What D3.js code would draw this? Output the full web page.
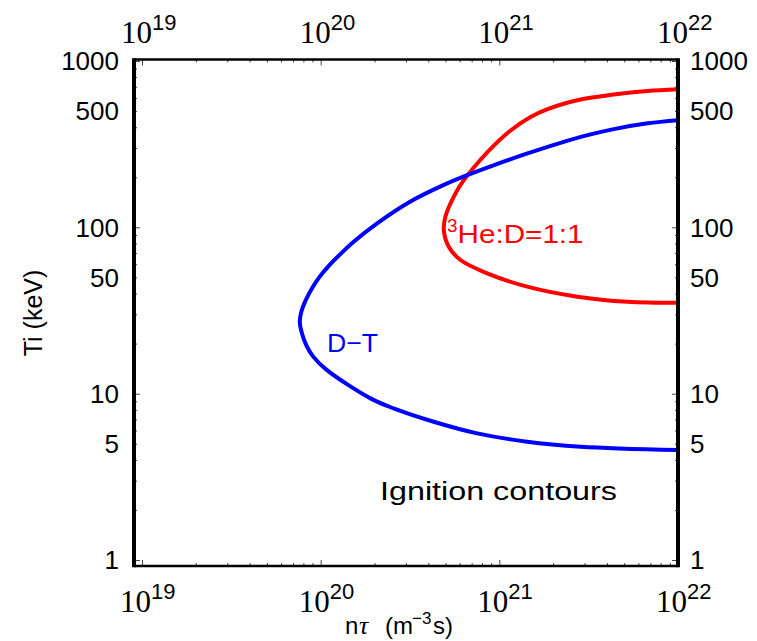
<!DOCTYPE html>
<html><head><meta charset="utf-8">
<script src="https://cdn.jsdelivr.net/npm/d3@7"></script>
<style>body{margin:0;background:#fff}svg{display:block}</style>
</head><body><svg id="c" width="757" height="641"></svg>
<script>
// ---- data ----
const xTickExponents = ["19", "20", "21", "22"];
const yTickValues = [1, 5, 10, 50, 100, 500, 1000];
const yTickLabels = ["1", "5", "10", "50", "100", "500", "1000"];

// D-T ignition contour: n*tau (m^-3 s), Ti (keV)
const dtNtau = [1e22, 6.77e21, 4.37e21, 3.24e21, 2.20e21, 1.438e21, 9.27e20, 6.61e20, 4.89e20, 3.18e20, 2.07e20, 1.53e20, 1.271e20, 1.094e20, 9.83e19, 9.03e19, 8.25e19, 7.78e19, 7.64e19, 7.85e19, 8.30e19, 9.08e19, 1.08e20, 1.90e20, 2.56e20, 4.29e20, 7.52e20, 1.43e21, 2.85e21, 1e22];
const dtTi   = [440.6, 422, 389.5, 361.9, 322.2, 278.2, 236, 206, 180, 143, 105.7, 82.0, 68.1, 57.7, 50.2, 43.75, 36.5, 30.9, 26.9, 23.1, 19.6, 16.7, 13.9, 9.37, 8.16, 6.78, 5.77, 5.14, 4.80, 4.58];

// 3He:D = 1:1 ignition contour
const heNtau = [1e22, 6.74e21, 4.37e21, 2.85e21, 1.862e21, 1.496e21, 1.156e21, 9.31e20, 7.52e20, 6.32e20, 5.56e20, 4.99e20, 4.89e20, 5.21e20, 6.06e20, 8.55e20, 1.43e21, 2.73e21, 5.21e21, 1e22];
const heTi   = [676, 660, 629, 587, 514, 460.5, 382, 310, 242, 192, 153, 116, 96, 76.4, 63.6, 52.9, 44.0, 38.3, 35.7, 35.2];

// ---- layout ----
const plot = {left: 134, right: 678, top: 59.5, bottom: 566};
const svg = d3.select("#c");
const x = d3.scaleLog().domain([Math.pow(10, 18.955), 1e22]).range([plot.left, plot.right]);
const y = d3.scaleLog().domain([Math.pow(10, -0.036), Math.pow(10, 3.009)]).range([plot.bottom, plot.top]);

svg.append("defs").append("clipPath").attr("id", "clip")
  .append("rect").attr("x", plot.left).attr("y", plot.top)
  .attr("width", plot.right - plot.left).attr("height", plot.bottom - plot.top);

// tick values
const xMajor = xTickExponents.map(e => Math.pow(10, +e));
const xMinor = [];
xMajor.slice(0, -1).forEach(d => { for (let k = 2; k <= 9; k++) xMinor.push(d * k); });
const yMajor = [1, 10, 100, 1000];
const yMinor = [];
yMajor.slice(0, -1).forEach(d => { for (let k = 2; k <= 9; k++) yMinor.push(d * k); });

function tickAxis(axisFn, scale, vals, size, tx, ty) {
  const g = svg.append("g").attr("transform", `translate(${tx},${ty})`)
    .call(axisFn(scale).tickValues(vals).tickSize(-size).tickFormat(() => ""));
  g.select(".domain").remove();
  g.selectAll("line").attr("stroke", "#444").attr("stroke-width", 1);
}
tickAxis(d3.axisBottom, x, xMinor, 3, 0, plot.bottom);
tickAxis(d3.axisBottom, x, xMajor, 6, 0, plot.bottom);
tickAxis(d3.axisTop, x, xMinor, 3, 0, plot.top);
tickAxis(d3.axisTop, x, xMajor, 6, 0, plot.top);
tickAxis(d3.axisLeft, y, yMinor, 3, plot.left, 0);
tickAxis(d3.axisLeft, y, yMajor, 6, plot.left, 0);
tickAxis(d3.axisRight, y, yMinor, 3, plot.right, 0);
tickAxis(d3.axisRight, y, yMajor, 6, plot.right, 0);

// curves
const line = d3.line().x(d => x(d[0])).y(d => y(d[1])).curve(d3.curveCatmullRom.alpha(0.5));
const curves = svg.append("g").attr("clip-path", "url(#clip)");
curves.append("path").datum(heNtau.map((v, i) => [v, heTi[i]]))
  .attr("d", line).attr("fill", "none").attr("stroke", "#ff0000").attr("stroke-width", 4)
  .attr("stroke-linejoin", "round");
curves.append("path").datum(dtNtau.map((v, i) => [v, dtTi[i]]))
  .attr("d", line).attr("fill", "none").attr("stroke", "#0000ff").attr("stroke-width", 4)
  .attr("stroke-linejoin", "round");

// frame
const frame = svg.append("g").attr("stroke", "#000");
frame.append("line").attr("x1", plot.left).attr("x2", plot.left).attr("y1", plot.top - 1.2).attr("y2", plot.bottom + 1.2).attr("stroke-width", 4);
frame.append("line").attr("x1", plot.right).attr("x2", plot.right).attr("y1", plot.top - 1.2).attr("y2", plot.bottom + 1.2).attr("stroke-width", 4);
frame.append("line").attr("x1", plot.left).attr("x2", plot.right).attr("y1", plot.top).attr("y2", plot.top).attr("stroke-width", 2.5);
frame.append("line").attr("x1", plot.left).attr("x2", plot.right).attr("y1", plot.bottom).attr("y2", plot.bottom).attr("stroke-width", 2.5);

// x tick labels (top and bottom)
function xLabels(baseY, dx) {
  xTickExponents.forEach(e => {
    const t = svg.append("text").attr("x", x(Math.pow(10, +e)) + dx).attr("y", baseY)
      .attr("fill", "#000");
    t.append("tspan").attr("font-family", "'Liberation Serif','Times New Roman',serif")
      .attr("font-size", 31).text("10");
    t.append("tspan").attr("font-family", "'Liberation Sans',Arial,sans-serif")
      .attr("font-size", 22).attr("dy", -13).text(e);
  });
}
xLabels(42.5, -21);
xLabels(612, -22);

// y tick labels (left and right)
const sans = "'Liberation Sans',Arial,sans-serif";
yTickValues.forEach((v, i) => {
  svg.append("text").attr("x", 119).attr("y", y(v)).attr("dy", "0.36em")
    .attr("text-anchor", "end").attr("font-family", sans).attr("font-size", 26).text(yTickLabels[i]);
  svg.append("text").attr("x", 690).attr("y", y(v)).attr("dy", "0.36em")
    .attr("text-anchor", "start").attr("font-family", sans).attr("font-size", 26).text(yTickLabels[i]);
});

// axis titles
svg.append("text").attr("transform", "translate(42,313) rotate(-90)")
  .attr("text-anchor", "middle").attr("font-family", sans).attr("font-size", 25)
  .text("Ti (keV)");

const xt = svg.append("text").attr("y", 634).attr("font-family", sans).attr("font-size", 24);
xt.append("tspan").attr("x", 345).text("n");
xt.append("tspan").attr("x", 359).attr("font-family", "'Liberation Serif',serif").attr("font-style", "italic").attr("font-size", 26).text("τ");
xt.append("tspan").attr("x", 385).text("(m");
xt.append("tspan").attr("x", 412).attr("font-size", 17).attr("dy", -10).text("−3");
xt.append("tspan").attr("x", 433).attr("dy", 10).text("s)");

// annotations
svg.append("text").attr("x", 380).attr("y", 500).attr("font-family", sans).attr("font-size", 26)
  .attr("textLength", 237).attr("lengthAdjust", "spacingAndGlyphs").text("Ignition contours");

svg.append("text").attr("x", 327).attr("y", 352).attr("font-family", sans).attr("font-size", 26)
  .attr("fill", "#0000ff").attr("textLength", 51).attr("lengthAdjust", "spacingAndGlyphs").text("D−T");

const he = svg.append("text").attr("x", 447).attr("y", 243).attr("font-family", sans).attr("font-size", 25)
  .attr("fill", "#ff0000");
he.append("tspan").attr("font-size", 19).attr("dy", -11).text("3");
he.append("tspan").attr("dy", 11).attr("textLength", 126).attr("lengthAdjust", "spacingAndGlyphs").text("He:D=1:1");
</script></body></html>
